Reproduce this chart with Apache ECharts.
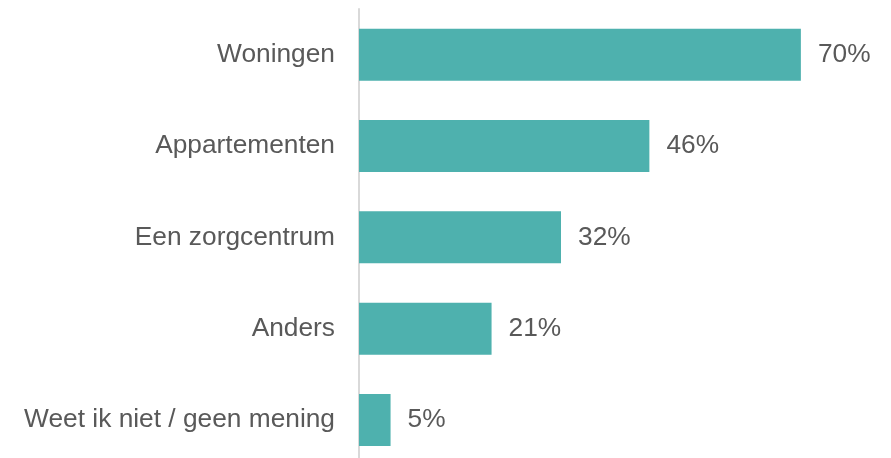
<!DOCTYPE html>
<html>
<head>
<meta charset="utf-8">
<script src="https://cdn.jsdelivr.net/npm/echarts@6/dist/echarts.min.js"></script>
<style>html,body{margin:0;padding:0;background:#fff}#c{width:891px;height:458px}</style>
</head>
<body>
<div id="c"></div>
<script>
const categories = ["Woningen", "Appartementen", "Een zorgcentrum", "Anders", "Weet ik niet / geen mening"];
const values = [70, 46, 32, 21, 5];

const chart = echarts.init(document.getElementById('c'));
chart.setOption({
  animation: false,
  grid: { left: 359, width: 505, top: 9, height: 456.7, containLabel: false, outerBoundsMode: 'none' },
  xAxis: { type: 'value', min: 0, max: 80, show: false },
  yAxis: {
    type: 'category', data: categories, inverse: true,
    axisLine: { show: true, lineStyle: { color: '#d9d9d9', width: 2 } },
    axisTick: { show: false },
    axisLabel: { margin: 24, color: '#595959', fontSize: 26.3, fontFamily: 'Liberation Sans, Arial, sans-serif' }
  },
  series: [{
    type: 'bar', data: values, barWidth: 52,
    itemStyle: { color: '#4EB1AE' },
    label: { show: true, position: 'right', distance: 17, formatter: '{c}%', color: '#595959', fontSize: 26.3, fontFamily: 'Liberation Sans, Arial, sans-serif' }
  }]
});
</script>
</body>
</html>
